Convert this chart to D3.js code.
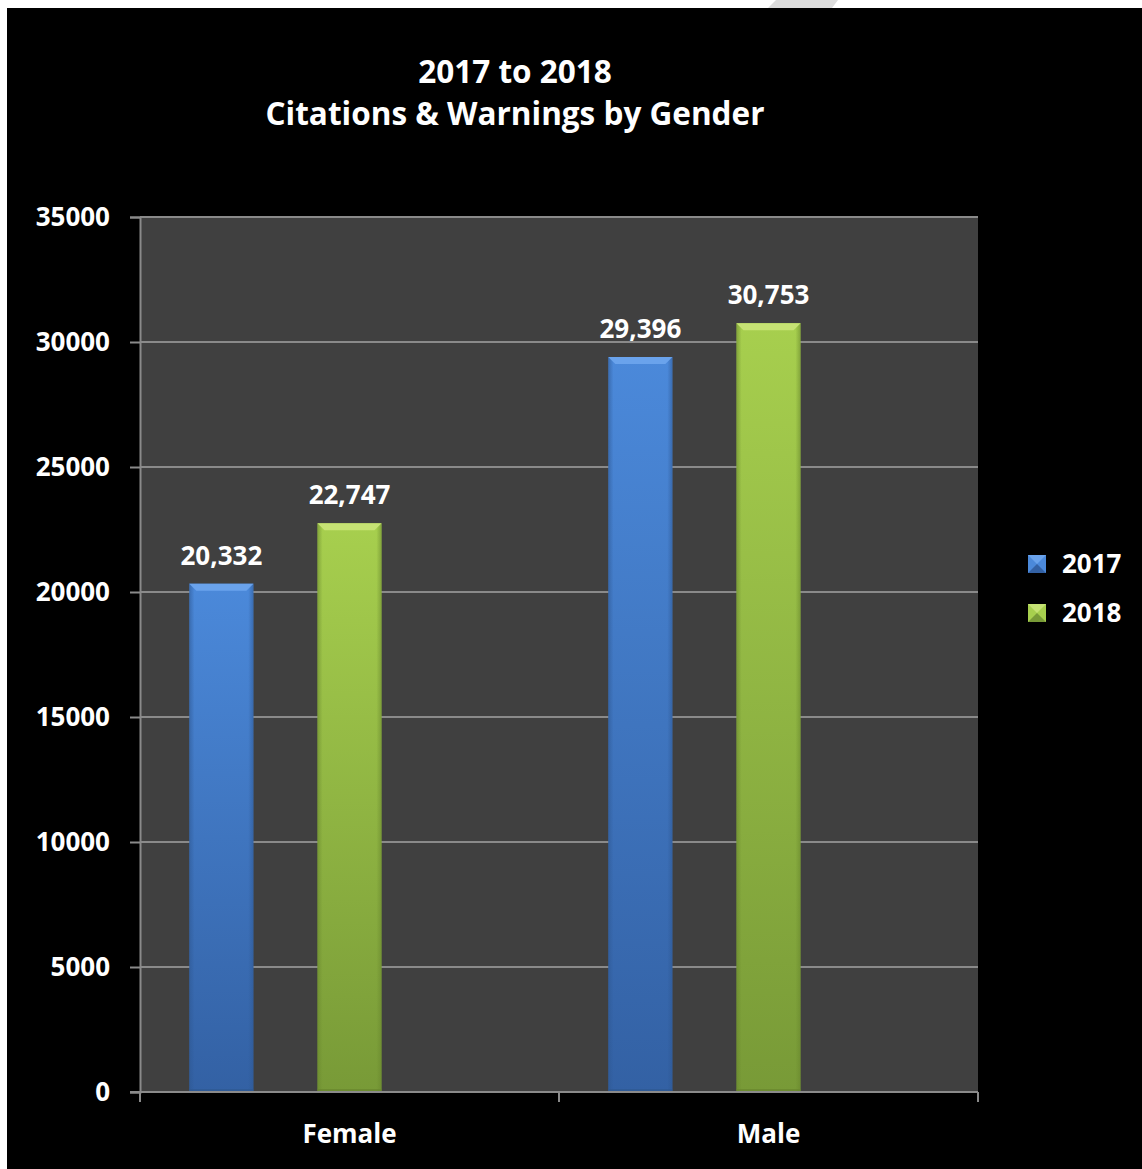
<!DOCTYPE html>
<html>
<head>
<meta charset="utf-8">
<script src="https://cdn.jsdelivr.net/npm/d3@7"></script>
<style>
  html, body { margin: 0; padding: 0; background: #ffffff; }
  svg { display: block; }
  text { font-family: "Open Sans", "Lato", "DejaVu Sans", sans-serif; font-weight: 700; fill: #ffffff; }
</style>
</head>
<body>
<svg id="chart" width="1142" height="1169"></svg>
<script>
// Citations & warnings, 2017 vs 2018, split by gender
const categories = ["Female", "Male"];
const years = ["2017", "2018"];
const values2017 = [20332, 29396];
const values2018 = [22747, 30753];
const yTicks = [0, 5000, 10000, 15000, 20000, 25000, 30000, 35000];
const titleLines = ["2017 to 2018", "Citations & Warnings by Gender"];

const seriesValues = { "2017": values2017, "2018": values2018 };
const palette = {
  "2017": { bevel: "#6aa3ec", top: "#4b89da", bottom: "#3361a4", edge: "#2d5690" },
  "2018": { bevel: "#c6e274", top: "#a7cf4e", bottom: "#789a37", edge: "#66842c" }
};

const W = 1142, H = 1169;
const plot = { left: 140, top: 217, right: 978, bottom: 1092 };

const svg = d3.select("#chart");
const defs = svg.append("defs");

// page background and black chart frame
svg.append("rect").attr("width", W).attr("height", H).attr("fill", "#ffffff");
svg.append("rect").attr("x", 7).attr("y", 8).attr("width", W - 7).attr("height", H - 8).attr("fill", "#000000");
svg.append("polygon")
  .attr("points", "776,0 838,0 832,8 768,8")
  .attr("fill", "#dcdcdc");

// scales
const x0 = d3.scaleBand().domain(categories).range([plot.left, plot.right]).paddingInner(0).paddingOuter(0);
// three slots per category; the last slot stays empty
const x1 = d3.scaleBand().domain([...years, "_"]).range([0, x0.bandwidth()]).paddingInner(0.5).paddingOuter(0.385);
const y = d3.scaleLinear().domain([0, 35000]).range([plot.bottom, plot.top]);

// plot area
svg.append("rect")
  .attr("x", plot.left).attr("y", plot.top)
  .attr("width", plot.right - plot.left).attr("height", plot.bottom - plot.top)
  .attr("fill", "#404040");

// horizontal gridlines
svg.append("g")
  .selectAll("line")
  .data(yTicks.filter(d => d > 0))
  .join("line")
  .attr("x1", plot.left).attr("x2", plot.right)
  .attr("y1", d => y(d)).attr("y2", d => y(d))
  .attr("stroke", "#8a8a8a").attr("stroke-width", 2);

// y axis
const yAxis = svg.append("g")
  .attr("transform", `translate(${plot.left},0)`)
  .call(d3.axisLeft(y).tickValues(yTicks).tickSize(10).tickPadding(20).tickFormat(d3.format("d")));
yAxis.select(".domain").attr("stroke", "#8a8a8a").attr("stroke-width", 2);
yAxis.selectAll(".tick line").attr("stroke", "#8a8a8a").attr("stroke-width", 2);
yAxis.attr("font-family", null).attr("font-size", null);
yAxis.selectAll(".tick text")
  .attr("fill", "#ffffff").style("font-size", "26px");

// gradients for bars
years.forEach(yr => {
  const c = palette[yr];
  const g = defs.append("linearGradient").attr("id", "grad" + yr)
    .attr("x1", 0).attr("y1", 0).attr("x2", 0).attr("y2", 1);
  g.append("stop").attr("offset", "0%").attr("stop-color", c.top);
  g.append("stop").attr("offset", "100%").attr("stop-color", c.bottom);
  const s = defs.append("linearGradient").attr("id", "side" + yr)
    .attr("x1", 0).attr("y1", 0).attr("x2", 1).attr("y2", 0);
  s.append("stop").attr("offset", "0%").attr("stop-color", c.edge).attr("stop-opacity", 0.55);
  s.append("stop").attr("offset", "8%").attr("stop-color", c.edge).attr("stop-opacity", 0);
  s.append("stop").attr("offset", "92%").attr("stop-color", c.edge).attr("stop-opacity", 0);
  s.append("stop").attr("offset", "100%").attr("stop-color", c.edge).attr("stop-opacity", 0.55);
});

// bars
const barData = [];
categories.forEach((cat, i) => {
  years.forEach(yr => barData.push({ cat, yr, value: seriesValues[yr][i] }));
});

const bars = svg.append("g")
  .selectAll("g")
  .data(barData)
  .join("g")
  .attr("transform", d => `translate(${x0(d.cat) + x1(d.yr)},0)`);

const bw = x1.bandwidth();
const bev = 7;

bars.append("rect")
  .attr("x", 0).attr("y", d => y(d.value))
  .attr("width", bw).attr("height", d => y(0) - y(d.value))
  .attr("fill", d => `url(#grad${d.yr})`);
bars.append("rect")
  .attr("x", 0).attr("y", d => y(d.value))
  .attr("width", bw).attr("height", d => y(0) - y(d.value))
  .attr("fill", d => `url(#side${d.yr})`);
// top bevel
bars.append("polygon")
  .attr("points", d => {
    const t = y(d.value);
    return `0,${t} ${bw},${t} ${bw - bev},${t + bev} ${bev},${t + bev}`;
  })
  .attr("fill", d => palette[d.yr].bevel);
// bottom shadow edge
bars.append("rect")
  .attr("x", 0).attr("y", y(0) - 3)
  .attr("width", bw).attr("height", 3)
  .attr("fill", d => palette[d.yr].edge).attr("opacity", 0.6);

// value labels
bars.append("text")
  .attr("x", bw / 2)
  .attr("y", d => y(d.value) - 19)
  .attr("text-anchor", "middle")
  .style("font-size", "26px")
  .text(d => d3.format(",")(d.value));

// x axis
const xAxisG = svg.append("g").attr("transform", `translate(0,${plot.bottom})`);
xAxisG.append("line")
  .attr("x1", plot.left - 10).attr("x2", plot.right)
  .attr("stroke", "#8a8a8a").attr("stroke-width", 2);
xAxisG.selectAll("line.tick")
  .data([plot.left, ...categories.map(c => x0(c) + x0.bandwidth())])
  .join("line").attr("class", "tick")
  .attr("x1", d => d).attr("x2", d => d)
  .attr("y1", 0).attr("y2", 10)
  .attr("stroke", "#8a8a8a").attr("stroke-width", 2);
xAxisG.selectAll("text")
  .data(categories)
  .join("text")
  .attr("x", d => x0(d) + x0.bandwidth() / 2)
  .attr("y", 51)
  .attr("text-anchor", "middle")
  .style("font-size", "26px")
  .text(d => d);

// title
svg.append("g").selectAll("text")
  .data(titleLines)
  .join("text")
  .attr("x", 515)
  .attr("y", (d, i) => 83 + i * 42)
  .attr("text-anchor", "middle")
  .style("font-size", "31.5px")
  .text(d => d);

// legend
const legend = svg.append("g").attr("transform", "translate(1028,555)");
const li = legend.selectAll("g").data(years).join("g")
  .attr("transform", (d, i) => `translate(0,${i * 49})`);
li.append("rect").attr("width", 18).attr("height", 18).attr("fill", d => palette[d].top);
li.append("polygon").attr("points", "0,0 18,0 9,9").attr("fill", d => palette[d].bevel);
li.append("polygon").attr("points", "0,18 18,18 9,9").attr("fill", d => palette[d].bottom);
li.append("text").attr("x", 34).attr("y", 18).style("font-size", "26px").text(d => d);
</script>
</body>
</html>
